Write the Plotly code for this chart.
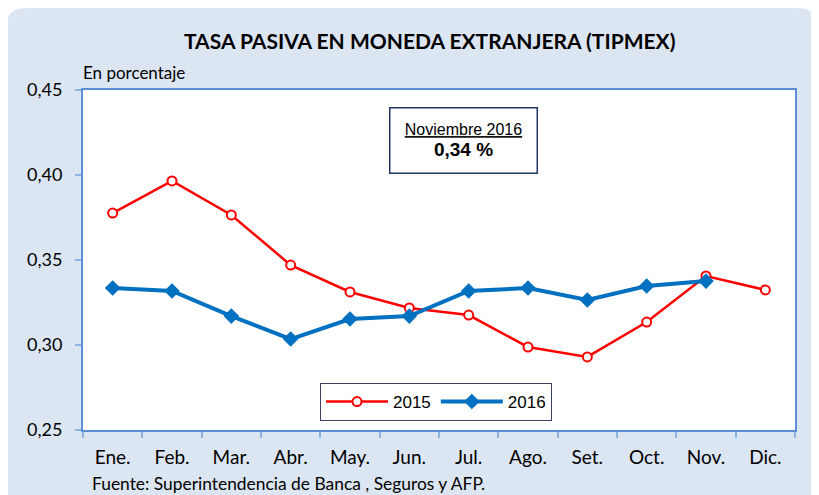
import plotly.graph_objects as go

months = ["Ene.", "Feb.", "Mar.", "Abr.", "May.", "Jun.", "Jul.", "Ago.", "Set.", "Oct.", "Nov.", "Dic."]
y2015 = [0.3776, 0.3965, 0.3765, 0.3470, 0.3312, 0.3218, 0.3176, 0.2988, 0.2930, 0.3135, 0.3406, 0.3324]
y2016 = [0.3335, 0.3318, 0.3170, 0.3035, 0.3153, 0.3170, 0.3318, 0.3335, 0.3265, 0.3347, 0.3376]
y_ticks = [0.25, 0.30, 0.35, 0.40, 0.45]
y_tick_text = ["0,25", "0,30", "0,35", "0,40", "0,45"]

OFF = 8  # page body margin
W, H = 819 - OFF, 495 - OFF
L, R, T, B = 83 - OFF, 24, 90 - OFF, 65
PW, PH = W - L - R, H - T - B

def px(xp):  # page pixel -> paper
    return (xp - OFF - L) / PW
def py(yp):
    return (H - B - (yp - OFF)) / PH

fig = go.Figure()
fig.add_trace(go.Scatter(
    x=months[:len(y2015)], y=y2015, name="2015", mode="lines+markers",
    line=dict(color="#FF0000", width=2.5),
    marker=dict(symbol="circle", size=9, color="white", line=dict(color="#FF0000", width=2)),
))
fig.add_trace(go.Scatter(
    x=months[:len(y2016)], y=y2016, name="2016", mode="lines+markers",
    line=dict(color="#0070C0", width=4),
    marker=dict(symbol="diamond", size=12, color="#0070C0"),
))

# rounded background panel
x0, y0, x1, y1, r = 5, 8, 819, 495, 22
path = (f"M {px(x0)} {py(y0+r)} Q {px(x0)} {py(y0)} {px(x0+r)} {py(y0)} "
        f"L {px(x1-r)} {py(y0)} Q {px(x1)} {py(y0)} {px(x1)} {py(y0+r)} "
        f"L {px(x1)} {py(y1)} L {px(x0)} {py(y1)} Z")
shapes = [
    dict(type="path", xref="paper", yref="paper", path=path,
         fillcolor="#DCE6F2", line=dict(width=0), layer="below"),
    dict(type="rect", xref="paper", yref="paper", x0=0, y0=0, x1=1, y1=1,
         fillcolor="white", line=dict(width=0), layer="below"),
]

fig.update_layout(
    width=W, height=H,
    margin=dict(l=L, r=R, t=T, b=B, autoexpand=False),
    paper_bgcolor="white", plot_bgcolor="white",
    shapes=shapes,
    showlegend=True,
    legend=dict(orientation="h", x=px(436), xanchor="center", y=py(402), yanchor="middle",
                bgcolor="white", bordercolor="#404060", borderwidth=1,
                font=dict(family="Liberation Sans, Arial", size=17, color="black"),
                itemwidth=62),
    xaxis=dict(
        type="category", categoryorder="array", categoryarray=months,
        range=[-0.5, 11.5], tickson="boundaries",
        showgrid=False, zeroline=False, showline=True, linecolor="#5B8ED6", linewidth=2,
        mirror=True, ticks="outside", ticklen=6, tickcolor="#8EB4E3", tickwidth=1.5,
        ticklabelstandoff=9,
        tickfont=dict(family="Lato, Open Sans", size=19, color="black"), fixedrange=True,
    ),
    yaxis=dict(
        range=[0.25, 0.45], tickvals=y_ticks, ticktext=y_tick_text,
        showgrid=False, zeroline=False, showline=True, linecolor="#5B8ED6", linewidth=2,
        mirror=True, ticks="outside", ticklen=6, tickcolor="#8EB4E3", tickwidth=1.5,
        ticklabelstandoff=9,
        tickfont=dict(family="Lato, Open Sans", size=18, color="black"), fixedrange=True,
    ),
    annotations=[
        dict(text="<b>TASA PASIVA EN MONEDA EXTRANJERA (TIPMEX)</b>", xref="paper", yref="paper",
             x=px(429), y=py(40), xanchor="center", yanchor="middle", showarrow=False,
             font=dict(family="Lato, Open Sans", size=21, color="black")),
        dict(text="En porcentaje", xref="paper", yref="paper", x=px(81), y=py(73),
             xanchor="left", yanchor="middle", showarrow=False,
             font=dict(family="Lato, Open Sans", size=17, color="black")),
        dict(text="Fuente: Superintendencia de Banca , Seguros y AFP.", xref="paper", yref="paper",
             x=px(90), y=py(484), xanchor="left", yanchor="middle", showarrow=False,
             font=dict(family="Lato, Open Sans", size=17.4, color="black")),
        dict(text="<u>Noviembre 2016</u><br><b><span style='font-size:19px'>0,34 %</span></b>",
             xref="paper", yref="paper", x=px(463.5), y=py(140), xanchor="center", yanchor="middle",
             showarrow=False, align="center", valign="middle", bgcolor="white",
             bordercolor="#1F3864", borderwidth=1.5,
             borderpad=4, width=138, height=56,
             font=dict(family="Liberation Sans, Arial", size=16, color="black")),
    ],
)

fig.write_html("out.html")
